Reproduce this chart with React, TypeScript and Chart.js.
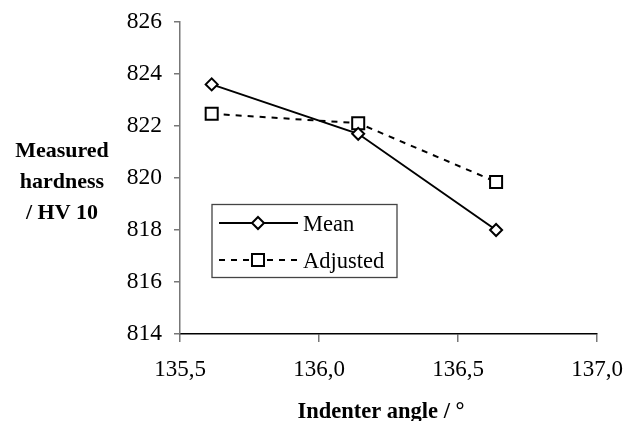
import React, { useEffect, useRef } from "react";
import { Chart, registerables } from "chart.js";

Chart.register(...registerables);

const angles = [135.614, 136.141, 136.637];
const meanValues = [823.6, 821.7, 818.0];
const adjustedValues = [822.47, 822.11, 819.85];
const seriesNames = ["Mean", "Adjusted"];
const yTitleLines = ["Measured", "hardness", "/ HV 10"];
const xTitle = "Indenter angle / °";

const FONT = "'Liberation Serif', 'Times New Roman', serif";

const overlayPlugin = {
  id: "overlay",
  afterDraw(chart: any) {
    const ctx = chart.ctx as CanvasRenderingContext2D;
    const ca = chart.chartArea;
    ctx.save();
    // y title
    ctx.fillStyle = "#000";
    ctx.font = `bold 22px ${FONT}`;
    ctx.textAlign = "center";
    ctx.textBaseline = "alphabetic";
    const baseY = [157, 188, 219];
    yTitleLines.forEach((t, i) => ctx.fillText(t, 62, baseY[i]));
    // x title
    ctx.font = `bold 22.5px ${FONT}`;
    ctx.fillText(xTitle, 381, 418);

    // legend
    const bx = ca.left + 32;
    const by = ca.top + 182.5;
    const bw = 185;
    const bh = 73;
    ctx.lineWidth = 1.3;
    ctx.strokeStyle = "#444";
    ctx.setLineDash([]);
    ctx.strokeRect(bx, by, bw, bh);
    const rows = [
      { y: by + 18.5, dash: [] as number[], style: "rectRot", r: 6 },
      { y: by + 55.5, dash: [6, 6], style: "rect", r: 8.5 },
    ];
    rows.forEach((row, i) => {
      ctx.save();
      ctx.strokeStyle = "#000";
      ctx.lineWidth = 2;
      ctx.setLineDash(row.dash);
      ctx.beginPath();
      ctx.moveTo(bx + 7, row.y);
      ctx.lineTo(bx + 86, row.y);
      ctx.stroke();
      ctx.restore();
      ctx.save();
      ctx.fillStyle = "#fff";
      ctx.strokeStyle = "#000";
      ctx.lineWidth = 2;
      const cx = bx + 46;
      if (row.style === "rectRot") {
        ctx.beginPath();
        ctx.moveTo(cx, row.y - row.r);
        ctx.lineTo(cx + row.r, row.y);
        ctx.lineTo(cx, row.y + row.r);
        ctx.lineTo(cx - row.r, row.y);
        ctx.closePath();
      } else {
        const s = row.r * Math.SQRT1_2;
        ctx.beginPath();
        ctx.rect(cx - s, row.y - s, 2 * s, 2 * s);
      }
      ctx.fill();
      ctx.stroke();
      ctx.restore();
      ctx.fillStyle = "#000";
      ctx.font = `22.5px ${FONT}`;
      ctx.textAlign = "left";
      ctx.textBaseline = "alphabetic";
      ctx.fillText(seriesNames[i], bx + 91, row.y + 8);
    });
    ctx.restore();
  },
};

export default function App() {
  const ref = useRef<HTMLCanvasElement | null>(null);
  useEffect(() => {
    if (!ref.current) return;
    const chart = new Chart(ref.current, {
      type: "line",
      data: {
        datasets: [
          {
            label: seriesNames[0],
            data: angles.map((a, i) => ({ x: a, y: meanValues[i] })),
            borderColor: "#000",
            borderWidth: 2,
            pointStyle: "rectRot",
            pointRadius: 6,
            pointBorderWidth: 2,
            pointBackgroundColor: "#fff",
            pointBorderColor: "#000",
            tension: 0,
          },
          {
            label: seriesNames[1],
            data: angles.map((a, i) => ({ x: a, y: adjustedValues[i] })),
            borderColor: "#000",
            borderWidth: 2,
            borderDash: [6, 6],
            pointStyle: "rect",
            pointRadius: 8.5,
            pointBorderWidth: 2,
            pointBackgroundColor: "#fff",
            pointBorderColor: "#000",
            tension: 0,
          },
        ],
      },
      options: {
        animation: false,
        responsive: false,
        layout: { padding: { left: 110, right: 30, top: 22, bottom: 0 } },
        plugins: { legend: { display: false }, tooltip: { enabled: false } },
        scales: {
          x: {
            type: "linear",
            min: 135.5,
            max: 137,
            afterFit: (s: any) => {
              s.height = 87;
              s.paddingLeft = 0;
              s.paddingRight = 0;
            },
            ticks: {
              stepSize: 0.5,
              color: "#000",
              padding: 14,
              font: { family: FONT, size: 23 },
              callback: (v: any) => Number(v).toFixed(1).replace(".", ","),
            },
            grid: { drawOnChartArea: false, drawTicks: true, tickLength: 8, color: "#777", lineWidth: 1.5 },
            border: { display: true, color: "#000", width: 1.5 },
          },
          y: {
            type: "linear",
            min: 814,
            max: 826,
            afterFit: (s: any) => {
              s.width = 70;
              s.paddingTop = 0;
              s.paddingBottom = 0;
            },
            ticks: {
              stepSize: 2,
              color: "#000",
              padding: 12,
              font: { family: FONT, size: 23.5 },
            },
            grid: { drawOnChartArea: false, drawTicks: true, tickLength: 6, color: "#777", lineWidth: 1.5 },
            border: { display: true, color: "#777", width: 1.5 },
          },
        },
      },
      plugins: [overlayPlugin],
    });
    return () => chart.destroy();
  }, []);
  return (
    <div style={{ position: "absolute", left: 0, top: 0, width: 627, height: 421, background: "#fff" }}>
      <canvas ref={ref} width={627} height={421} style={{ width: 627, height: 421 }} />
    </div>
  );
}
